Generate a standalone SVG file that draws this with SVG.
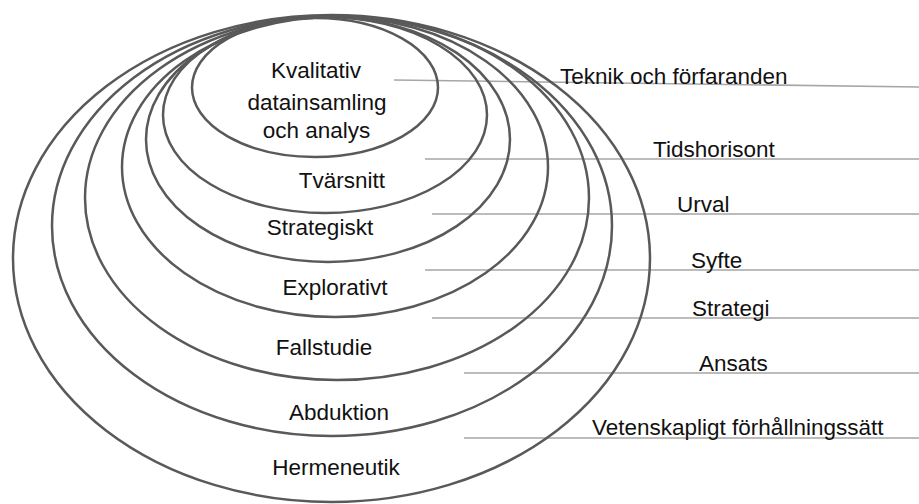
<svg xmlns="http://www.w3.org/2000/svg" width="919" height="504" viewBox="0 0 919 504">
<style>
.ring{fill:none;stroke:#595959;stroke-width:2.5}
.conn{stroke:#a6a6a6;stroke-width:1.6;fill:none}
.lbl{font-family:"Liberation Sans",Arial,sans-serif;font-size:22.5px;fill:#111}
.c{text-anchor:middle}
</style>
<rect width="919" height="504" fill="#fff"/>
<g id="connectors">
<line class="conn" x1="394" y1="80" x2="919" y2="87"/>
<line class="conn" x1="425" y1="159" x2="919" y2="159"/>
<line class="conn" x1="432" y1="214" x2="919" y2="214"/>
<line class="conn" x1="425" y1="270" x2="919" y2="270"/>
<line class="conn" x1="432" y1="318" x2="919" y2="318"/>
<line class="conn" x1="464" y1="373" x2="919" y2="373"/>
<line class="conn" x1="464" y1="438" x2="919" y2="438"/>
</g>
<g id="ring-hermeneutik">
<ellipse class="ring" cx="331.5" cy="258.5" rx="318.5" ry="243.5"/>
<text class="lbl c" x="336" y="475">Hermeneutik</text>
</g>
<g id="ring-abduktion">
<ellipse class="ring" cx="332" cy="226" rx="280" ry="210"/>
<text class="lbl c" x="339" y="420">Abduktion</text>
</g>
<g id="ring-fallstudie">
<ellipse class="ring" cx="337" cy="198" rx="252" ry="182"/>
<text class="lbl c" x="324" y="355">Fallstudie</text>
</g>
<g id="ring-explorativt">
<ellipse class="ring" cx="335" cy="167" rx="213" ry="150"/>
<text class="lbl c" x="335" y="295">Explorativt</text>
</g>
<g id="ring-strategiskt">
<ellipse class="ring" cx="328" cy="139.5" rx="182" ry="122.5"/>
<text class="lbl c" x="320" y="235">Strategiskt</text>
</g>
<g id="ring-tvarsnitt">
<ellipse class="ring" cx="325" cy="115" rx="162" ry="98"/>
<text class="lbl c" x="342" y="188">Tvärsnitt</text>
</g>
<g id="ring-kvalitativ">
<ellipse class="ring" cx="315" cy="87.5" rx="123" ry="69.5"/>
<text class="lbl c" x="316" y="78">Kvalitativ</text>
<text class="lbl c" x="317" y="110">datainsamling</text>
<text class="lbl c" x="316.5" y="138">och analys</text>
</g>
<g id="labels">
<text class="lbl" x="560" y="84">Teknik och förfaranden</text>
<text class="lbl" x="653" y="157">Tidshorisont</text>
<text class="lbl" x="677" y="212">Urval</text>
<text class="lbl" x="691" y="268">Syfte</text>
<text class="lbl" x="692" y="316">Strategi</text>
<text class="lbl" x="699" y="371">Ansats</text>
<text class="lbl" x="592" y="435">Vetenskapligt förhållningssätt</text>
</g>
</svg>
